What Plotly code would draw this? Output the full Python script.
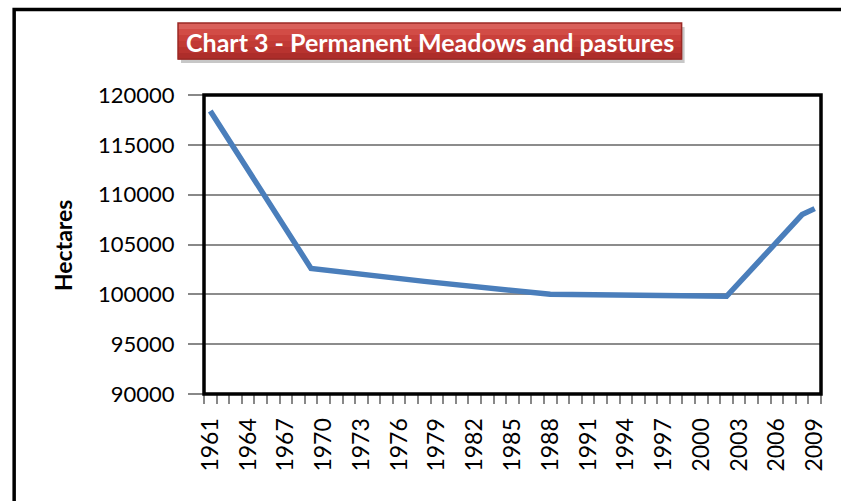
import plotly.graph_objects as go

# Readings from the chart (hectares). Segments between these years are straight.
years = [1961, 1969, 1978, 1988, 1995, 2002, 2008, 2009]
hectares = [118400, 102600, 101300, 100000, 99900, 99800, 108000, 108600]

all_years = list(range(1961, 2010))
label_years = list(range(1961, 2010, 3))
y_ticks = list(range(90000, 120001, 5000))

title_text = "Chart 3 - Permanent Meadows and pastures"
y_title = "Hectares"

W, H = 841, 501
L, R, T, B = 204, 821.5, 95, 394   # plot area edges in pixels
FONT = "Lato"


def px(x):
    return (x - L) / (R - L)


def py(y):
    return (B - y) / (B - T)


fig = go.Figure()
fig.add_trace(
    go.Scatter(
        x=years,
        y=hectares,
        mode="lines",
        line=dict(color="#4a7ebb", width=5.5),
        connectgaps=True,
        showlegend=False,
        hoverinfo="x+y",
    )
)

shapes = []
# outer chart frame (right and bottom sides run past the page)
shapes.append(dict(type="rect", xref="paper", yref="paper",
                   x0=px(14), x1=px(870), y0=py(9.5), y1=py(530),
                   line=dict(color="black", width=3.5), layer="below"))
# title box: shadow + vertical gradient bands
x0, x1, y0, y1 = 178, 682, 23, 59
shapes.append(dict(type="rect", xref="paper", yref="paper",
                   x0=px(x0 + 3), x1=px(x1 + 3), y0=py(y0 + 4), y1=py(y1 + 4),
                   fillcolor="rgba(0,0,0,0.22)", line=dict(width=0), layer="below"))
band_colors = ["#d9605a", "#d24c46", "#c9403b", "#c13a35", "#b8332f", "#ad2d2a"]
bh = (y1 - y0) / len(band_colors)
for i, c in enumerate(band_colors):
    shapes.append(dict(type="rect", xref="paper", yref="paper",
                       x0=px(x0), x1=px(x1), y0=py(y0 + i * bh), y1=py(y0 + (i + 1) * bh + 0.5),
                       fillcolor=c, line=dict(width=0), layer="below"))
shapes.append(dict(type="rect", xref="paper", yref="paper",
                   x0=px(x0), x1=px(x1), y0=py(y0), y1=py(y1),
                   line=dict(color="#9a2824", width=1.5), layer="below"))
# plot area border
shapes.append(dict(type="rect", xref="paper", yref="paper",
                   x0=0, x1=1, y0=0, y1=1,
                   line=dict(color="black", width=3.5), layer="above"))

fig.update_layout(
    width=W,
    height=H,
    margin=dict(l=L, r=W - R, t=T, b=H - B, pad=0),
    paper_bgcolor="white",
    plot_bgcolor="white",
    font=dict(family=FONT, color="black"),
    shapes=shapes,
    annotations=[
        dict(text=f"<b>{title_text}</b>", xref="paper", yref="paper",
             x=px((x0 + x1) / 2), y=py((y0 + y1) / 2 + 1),
             xanchor="center", yanchor="middle", showarrow=False,
             font=dict(family=FONT, size=25, color="white")),
        dict(text=f"<b>{y_title}</b>", xref="paper", yref="paper",
             x=px(63), y=py(245), xanchor="center", yanchor="middle",
             textangle=-90, showarrow=False,
             font=dict(family=FONT, size=23, color="black")),
    ],
)
fig.update_xaxes(
    range=[1960.5, 2009.5],
    tickmode="array",
    tickvals=label_years,
    ticktext=[str(y) for y in label_years],
    tickangle=-90,
    ticks="outside",
    ticklen=0,
    tickfont=dict(family=FONT, size=23),
    ticklabelstandoff=14,
    showgrid=False,
    zeroline=False,
    showline=True,
    linecolor="#888888",
    linewidth=1,
    minor=dict(tickmode="array", tickvals=[y - 0.5 for y in all_years] + [2009.5],
               ticks="outside", ticklen=9, tickcolor="#888888", tickwidth=1.5),
)
fig.update_yaxes(
    range=[90000, 120000],
    tickmode="array",
    tickvals=y_ticks,
    ticktext=[str(v) for v in y_ticks],
    ticks="outside",
    ticklen=15,
    tickcolor="#888888",
    tickwidth=1.5,
    tickfont=dict(family=FONT, size=22),
    ticklabelstandoff=9,
    showgrid=True,
    gridcolor="#8c8c8c",
    gridwidth=1.5,
    zeroline=False,
    showline=True,
    linecolor="#888888",
    linewidth=1,
)

# the page body has a default 8px margin; remove it so pixel positions line up
fig.write_html("out.html", config={"displayModeBar": False},
               post_script="document.body.style.margin='0';")
